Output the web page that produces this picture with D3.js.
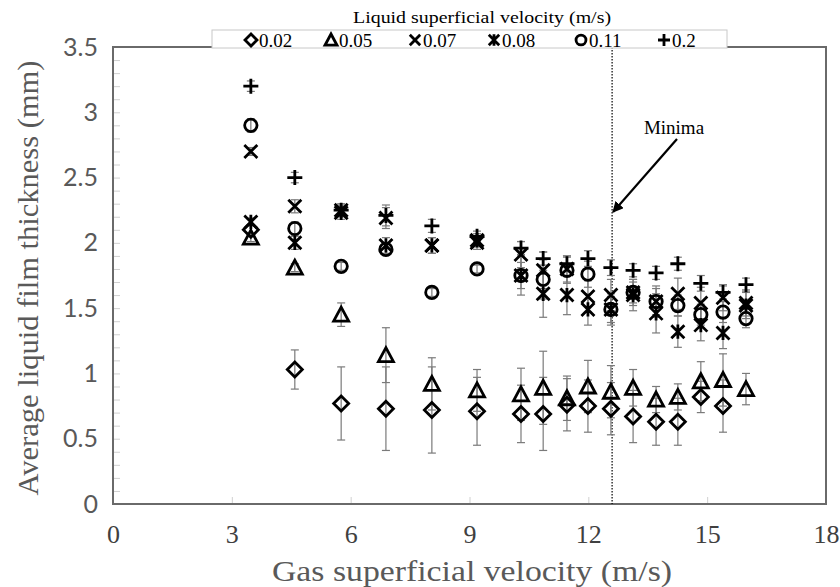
<!DOCTYPE html>
<html>
<head>
<meta charset="utf-8">
<script src="https://cdn.jsdelivr.net/npm/d3@7"></script>
<style>
  body { margin: 0; background: #fff; }
  svg { display: block; }
</style>
</head>
<body>
<svg id="chart" width="840" height="587"></svg>
<script>
// Gas superficial velocity (m/s) at each measurement point
const gasVelocity = [3.48, 4.59, 5.76, 6.89, 8.05, 9.19, 10.30, 10.86, 11.46, 11.99, 12.57, 13.13, 13.71, 14.26, 14.84, 15.40, 15.98];

// Liquid superficial velocity series (m/s)
const liquidVelocities = ["0.02", "0.05", "0.07", "0.08", "0.11", "0.2"];

// Average liquid film thickness (mm) and error bar half-widths per series
const film002 = [2.10, 1.03, 0.77, 0.73, 0.72, 0.71, 0.69, 0.69, 0.76, 0.75, 0.73, 0.67, 0.63, 0.63, 0.82, 0.75, null];
const err002  = [0.04, 0.15, 0.28, 0.32, 0.33, 0.26, 0.22, 0.28, 0.20, 0.20, 0.20, 0.20, 0.18, 0.18, 0.12, 0.20, null];
const film005 = [2.04, 1.81, 1.45, 1.14, 0.92, 0.87, 0.84, 0.89, 0.81, 0.90, 0.86, 0.89, 0.80, 0.82, 0.94, 0.95, 0.88];
const err005  = [0.03, 0.03, 0.09, 0.21, 0.20, 0.16, 0.20, 0.28, 0.17, 0.20, 0.20, 0.14, 0.10, 0.10, 0.15, 0.20, 0.12];
const film007 = [2.70, 2.28, 2.25, 2.19, 1.98, 2.00, 1.91, 1.79, 1.80, 1.59, 1.60, 1.62, 1.55, 1.61, 1.54, 1.58, 1.54];
const err007  = [0.03, 0.05, 0.05, 0.08, 0.06, 0.05, 0.10, 0.14, 0.10, 0.12, 0.12, 0.10, 0.12, 0.12, 0.12, 0.10, 0.10];
const film008 = [2.16, 2.00, 2.23, 1.98, 1.98, 2.02, 1.75, 1.61, 1.60, 1.49, 1.49, 1.60, 1.46, 1.32, 1.37, 1.31, 1.52];
const err008  = [0.03, 0.05, 0.05, 0.06, 0.06, 0.05, 0.15, 0.18, 0.15, 0.12, 0.12, 0.12, 0.15, 0.12, 0.12, 0.12, 0.10];
const film011 = [2.90, 2.11, 1.82, 1.95, 1.62, 1.80, 1.75, 1.72, 1.79, 1.76, 1.49, 1.62, 1.55, 1.52, 1.45, 1.47, 1.42];
const err011  = [0.05, 0.05, 0.03, 0.04, 0.03, 0.03, 0.10, 0.15, 0.10, 0.10, 0.10, 0.08, 0.10, 0.08, 0.08, 0.08, 0.07];
const film020 = [3.20, 2.50, 2.25, 2.21, 2.13, 2.05, 1.96, 1.88, 1.84, 1.88, 1.81, 1.79, 1.77, 1.84, 1.69, 1.62, 1.68];
const err020  = [0.04, 0.04, 0.04, 0.08, 0.05, 0.04, 0.05, 0.05, 0.06, 0.06, 0.06, 0.05, 0.05, 0.05, 0.06, 0.05, 0.05];

// Axis ticks
const xTicks = [0, 3, 6, 9, 12, 15, 18];
const yTicks = [0, 0.5, 1, 1.5, 2, 2.5, 3, 3.5];

// Gas velocity at which the film thickness reaches its minimum
const minimaVelocity = 12.6;

// ---- marker shapes (centred on 0,0) ----
function circlePath(r) {
  const p = d3.path();
  p.arc(0, 0, r, 0, Math.PI * 2);
  p.closePath();
  return p.toString();
}
const markerPaths = {
  diamond:  s => `M0,${-s}L${s},0L0,${s}L${-s},0Z`,
  triangle: s => `M0,${-s}L${s},${s * 0.87}L${-s},${s * 0.87}Z`,
  times:    s => `M${-s},${-s}L${s},${s}M${-s},${s}L${s},${-s}`,
  star:     s => `M${-s},${-s}L${s},${s}M${-s},${s}L${s},${-s}M0,${-s * 1.1}L0,${s * 1.1}`,
  circle:   s => circlePath(s),
  plus:     s => `M${-s},0L${s},0M0,${-s}L0,${s}`
};

const series = [
  { label: liquidVelocities[0], values: film002, errors: err002, shape: "diamond",  size: 7.5 },
  { label: liquidVelocities[1], values: film005, errors: err005, shape: "triangle", size: 7.5 },
  { label: liquidVelocities[2], values: film007, errors: err007, shape: "times",    size: 6.5 },
  { label: liquidVelocities[3], values: film008, errors: err008, shape: "star",     size: 6.5 },
  { label: liquidVelocities[4], values: film011, errors: err011, shape: "circle",   size: 6.2 },
  { label: liquidVelocities[5], values: film020, errors: err020, shape: "plus",     size: 7.5 }
];

const svg = d3.select("#chart");
const plot = { left: 113, right: 826, top: 47, bottom: 504 };

const x = d3.scaleLinear().domain([0, 18]).range([plot.left, plot.right]);
const y = d3.scaleLinear().domain([0, 3.5]).range([plot.bottom, plot.top]);

const serif = "'Liberation Serif', 'Times New Roman', serif";
const axisGrey = "#595959";

// minor ticks on the left edge
svg.append("g")
  .attr("transform", `translate(${plot.left},0)`)
  .call(d3.axisRight(y).tickValues(d3.range(0, 35).map(i => i / 10)).tickSize(7).tickFormat(""))
  .call(g => g.select(".domain").remove())
  .call(g => g.selectAll("line").attr("stroke", "#d0d0d0").attr("stroke-width", 1));

// major ticks on the bottom edge
svg.append("g")
  .attr("transform", `translate(0,${plot.bottom})`)
  .call(d3.axisTop(x).tickValues(xTicks).tickSize(7).tickFormat(""))
  .call(g => g.select(".domain").remove())
  .call(g => g.selectAll("line").attr("stroke", "#d0d0d0").attr("stroke-width", 1));

// plot frame
svg.append("rect")
  .attr("x", plot.left).attr("y", plot.top)
  .attr("width", plot.right - plot.left).attr("height", plot.bottom - plot.top)
  .attr("fill", "none").attr("stroke", "#6a6a6a").attr("stroke-width", 2);

// y tick labels
svg.append("g")
  .attr("transform", `translate(${plot.left},0)`)
  .call(d3.axisLeft(y).tickValues(yTicks).tickSize(0).tickPadding(15).tickFormat(d => d))
  .call(g => g.select(".domain").remove())
  .call(g => g.selectAll("text")
    .attr("font-family", "Lato, 'Open Sans', sans-serif")
    .attr("font-size", 25).attr("fill", axisGrey));

// x tick labels
svg.append("g")
  .attr("transform", `translate(0,${plot.bottom})`)
  .call(d3.axisBottom(x).tickValues(xTicks).tickSize(0).tickPadding(21).tickFormat(d => d))
  .call(g => g.select(".domain").remove())
  .call(g => g.selectAll("text")
    .attr("font-family", serif)
    .attr("font-size", 26).attr("fill", "#404040"));

// axis titles
svg.append("text")
  .attr("x", 472).attr("y", 581)
  .attr("text-anchor", "middle")
  .attr("font-family", serif).attr("font-size", 29).attr("fill", axisGrey)
  .attr("textLength", 400).attr("lengthAdjust", "spacingAndGlyphs")
  .text("Gas  superficial velocity (m/s)");

svg.append("text")
  .attr("transform", "translate(38,278) rotate(-90)")
  .attr("text-anchor", "middle")
  .attr("font-family", serif).attr("font-size", 30).attr("fill", axisGrey)
  .attr("textLength", 435).attr("lengthAdjust", "spacingAndGlyphs")
  .text("Average liquid film thickness (mm)");

// vertical dotted line at the minimum
svg.append("line")
  .attr("x1", x(minimaVelocity)).attr("x2", x(minimaVelocity))
  .attr("y1", plot.top).attr("y2", plot.bottom)
  .attr("stroke", "#000").attr("stroke-width", 1.2).attr("stroke-dasharray", "1.5,1.5");

// annotation arrow
svg.append("defs").append("marker")
  .attr("id", "arrowHead").attr("viewBox", "0 0 10 10")
  .attr("refX", 9).attr("refY", 5)
  .attr("markerWidth", 5).attr("markerHeight", 5)
  .attr("orient", "auto")
  .append("path").attr("d", "M0,0L10,5L0,10Z").attr("fill", "#000");

svg.append("line")
  .attr("x1", 677).attr("y1", 139)
  .attr("x2", x(minimaVelocity) + 1).attr("y2", 212)
  .attr("stroke", "#000").attr("stroke-width", 2.2)
  .attr("marker-end", "url(#arrowHead)");

svg.append("text")
  .attr("x", 674).attr("y", 134)
  .attr("text-anchor", "middle")
  .attr("font-family", serif).attr("font-size", 19).attr("fill", "#000")
  .text("Minima");

// error bars
const errG = svg.append("g");
series.forEach(s => {
  gasVelocity.forEach((gv, i) => {
    const v = s.values[i], e = s.errors[i];
    if (v == null || e == null) return;
    const cx = x(gv);
    const g = errG.append("g").attr("stroke", "#7a7a7a").attr("stroke-width", 1.2);
    g.append("line").attr("x1", cx).attr("x2", cx).attr("y1", y(v - e)).attr("y2", y(v + e));
    g.append("line").attr("x1", cx - 4).attr("x2", cx + 4).attr("y1", y(v - e)).attr("y2", y(v - e));
    g.append("line").attr("x1", cx - 4).attr("x2", cx + 4).attr("y1", y(v + e)).attr("y2", y(v + e));
  });
});

// markers
const markG = svg.append("g");
series.forEach(s => {
  markG.append("g")
    .selectAll("path")
    .data(gasVelocity.map((gv, i) => ({ gv, v: s.values[i] })).filter(d => d.v != null))
    .join("path")
    .attr("transform", d => `translate(${x(d.gv)},${y(d.v)})`)
    .attr("d", markerPaths[s.shape](s.size))
    .attr("fill", "none")
    .attr("stroke", "#000")
    .attr("stroke-width", 2.8)
    .attr("stroke-linejoin", "miter");
});

// legend
svg.append("text")
  .attr("x", 482).attr("y", 23)
  .attr("text-anchor", "middle")
  .attr("font-family", serif).attr("font-size", 17).attr("fill", "#000")
  .attr("textLength", 258).attr("lengthAdjust", "spacingAndGlyphs")
  .text("Liquid superficial velocity (m/s)");

svg.append("rect")
  .attr("x", 212).attr("y", 30).attr("width", 515).attr("height", 18)
  .attr("fill", "#fff").attr("stroke", "#c8c8c8").attr("stroke-width", 1);

const legendX = [251, 331, 415, 494, 581, 664];
const legendG = svg.append("g");
series.forEach((s, i) => {
  const g = legendG.append("g").attr("transform", `translate(${legendX[i]},40)`);
  g.append("path")
    .attr("d", markerPaths[s.shape](s.size * 0.8))
    .attr("fill", "none").attr("stroke", "#000").attr("stroke-width", 2.8);
  g.append("text")
    .attr("x", 8).attr("y", 6.5)
    .attr("font-family", serif).attr("font-size", 19).attr("fill", "#000")
    .text(s.label);
});
</script>
</body>
</html>
